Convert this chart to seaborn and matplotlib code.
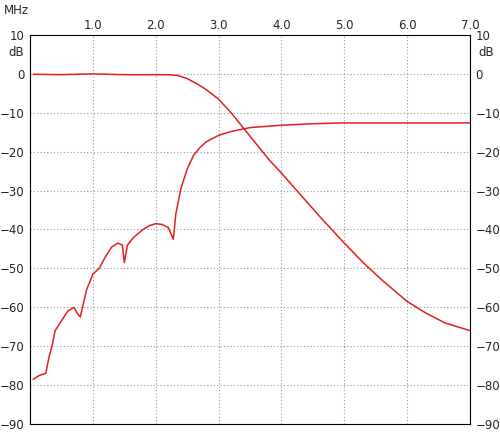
import numpy as np
import pandas as pd
import matplotlib
matplotlib.use("Agg")
import matplotlib.pyplot as plt
import seaborn as sns

# low-pass response (MHz, dB)
lp_f = [0.05, 0.5, 1.0, 1.5, 2.0, 2.2, 2.35, 2.5, 2.65, 2.8, 3.0, 3.2, 3.4, 3.6, 3.8,
        4.0, 4.3, 4.6, 5.0, 5.3, 5.6, 6.0, 6.3, 6.6, 7.0]
lp_db = [-0.1, -0.2, 0.0, -0.2, -0.2, -0.2, -0.4, -1.2, -2.5, -4.0, -6.5, -10.0, -14.0,
         -18.0, -22.0, -25.5, -31.0, -36.5, -43.5, -48.5, -53.0, -58.5, -61.5, -64.0, -66.0]

# second trace
hp_f = [0.05, 0.15, 0.25, 0.3, 0.35, 0.4, 0.5, 0.6, 0.7, 0.75, 0.8, 0.85, 0.9, 1.0, 1.1,
        1.2, 1.3, 1.4, 1.47, 1.5, 1.55, 1.65, 1.8, 1.9, 2.0, 2.1, 2.2, 2.28, 2.32, 2.4,
        2.5, 2.6, 2.7, 2.8, 3.0, 3.2, 3.5, 4.0, 4.5, 5.0, 6.0, 7.0]
hp_db = [-78.5, -77.5, -77.0, -73.0, -70.0, -66.0, -63.5, -61.0, -60.0, -61.5, -62.5,
         -59.0, -55.5, -51.5, -50.0, -47.0, -44.5, -43.5, -44.0, -48.5, -44.0, -42.0,
         -40.0, -39.0, -38.5, -38.7, -39.5, -42.5, -36.0, -29.5, -24.5, -21.0, -19.0,
         -17.5, -15.8, -14.8, -13.8, -13.2, -12.8, -12.6, -12.6, -12.6]

sns.set_style("white")
fig = plt.figure(figsize=(5.0, 4.41), dpi=100)
ax = fig.add_axes([30 / 500, 1 - 424 / 441, 440 / 500, 389 / 441])

df_lp = pd.DataFrame({"f": lp_f, "db": lp_db})
df_hp = pd.DataFrame({"f": hp_f, "db": hp_db})
sns.lineplot(data=df_lp, x="f", y="db", color="#e02020", lw=1.1, ax=ax)
sns.lineplot(data=df_hp, x="f", y="db", color="#e02020", lw=1.1, ax=ax)

ax.set_xlim(0, 7)
ax.set_ylim(-90, 10)
ax.set_xticks(np.arange(0, 8, 1))
ax.set_yticks(np.arange(-90, 11, 10))
ax.grid(True, color="#999999", ls=(0, (1, 2)), lw=0.8)
ax.xaxis.tick_top()
ax.set_xticklabels([""] + [f"{v:.1f}" for v in range(1, 8)])
ax.tick_params(axis="y", left=True, right=True, labelleft=True, labelright=True,
               length=0, labelsize=8.5, pad=4)
ax.tick_params(axis="x", length=0, labelsize=8.5, pad=2)
ax.set_xlabel("")
ax.set_ylabel("")
for s in ax.spines.values():
    s.set_color("black")
    s.set_linewidth(0.8)

fig.text(4 / 500, 1 - 10 / 441, "MHz", fontsize=8.5, va="center")
fig.text(8 / 500, 1 - 52 / 441, "dB", fontsize=8.5, va="center")
fig.text(478 / 500, 1 - 52 / 441, "dB", fontsize=8.5, va="center")

fig.savefig("out.png", dpi=100, facecolor="white")
